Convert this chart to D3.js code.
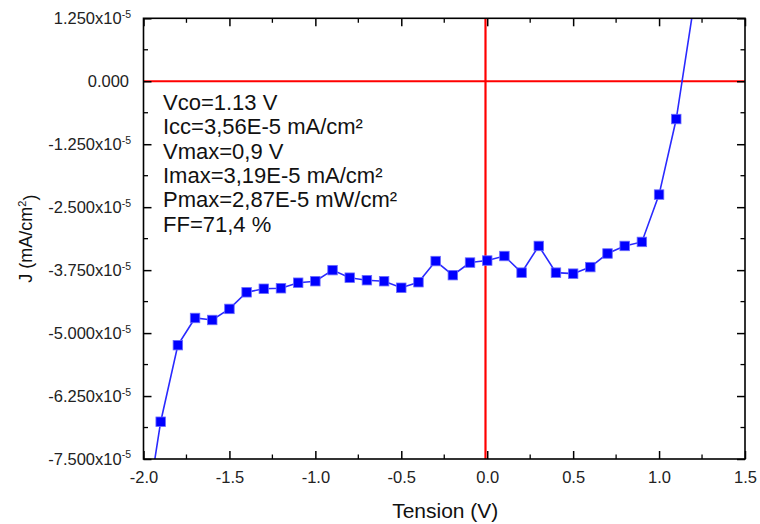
<!DOCTYPE html>
<html>
<head>
<meta charset="utf-8">
<script src="https://cdn.jsdelivr.net/npm/d3@7"></script>
<style>
  html, body { margin: 0; padding: 0; background: #fff; }
  svg { display: block; font-family: "Liberation Sans", Arial, sans-serif; }
</style>
</head>
<body>
<svg id="chart" width="760" height="524"></svg>
<script>
// ---- data ----
const voltage = [-2.0, -1.9, -1.8, -1.7, -1.6, -1.5, -1.4, -1.3, -1.2, -1.1, -1.0,
  -0.9, -0.8, -0.7, -0.6, -0.5, -0.4, -0.3, -0.2, -0.1, 0.0,
  0.1, 0.2, 0.3, 0.4, 0.5, 0.6, 0.7, 0.8, 0.9, 1.0, 1.1, 1.2];
const currentDensity = [-8.95e-5, -6.76e-5, -5.24e-5, -4.70e-5, -4.74e-5, -4.52e-5, -4.19e-5, -4.12e-5, -4.11e-5, -4.00e-5, -3.97e-5,
  -3.75e-5, -3.90e-5, -3.95e-5, -3.97e-5, -4.10e-5, -3.99e-5, -3.57e-5, -3.85e-5, -3.60e-5, -3.56e-5,
  -3.47e-5, -3.80e-5, -3.27e-5, -3.80e-5, -3.82e-5, -3.69e-5, -3.42e-5, -3.27e-5, -3.19e-5, -2.25e-5, -0.75e-5, 1.47e-5];
const xTicks = [-2.0, -1.5, -1.0, -0.5, 0.0, 0.5, 1.0, 1.5];
const xMinorTicks = [-1.75, -1.25, -0.75, -0.25, 0.25, 0.75, 1.25];
const yTicks = [1.25e-5, 0, -1.25e-5, -2.5e-5, -3.75e-5, -5e-5, -6.25e-5, -7.5e-5];
const yTickMantissa = ["1.250", "0.000", "-1.250", "-2.500", "-3.750", "-5.000", "-6.250", "-7.500"];
const yMinorTicks = [0.625e-5, -0.625e-5, -1.875e-5, -3.125e-5, -4.375e-5, -5.625e-5, -6.875e-5];
const refV = -0.01;
const refJ = 0;
const annotations = ["Vco=1.13 V", "Icc=3,56E-5 mA/cm²", "Vmax=0,9 V",
  "Imax=3,19E-5 mA/cm²", "Pmax=2,87E-5 mW/cm²", "FF=71,4 %"];
const xTitle = "Tension (V)";
const yTitleMain = "J (mA/cm";
const yTitleSup = "2";
const yTitleEnd = ")";

(function () {
// ---- layout ----
const svg = d3.select("#chart");
const L = 143.5, R = 745, T = 18.3, B = 459;
const x = d3.scaleLinear().domain([-2.0, 1.5]).range([L, R]);
const y = d3.scaleLinear().domain([-7.5e-5, 1.25e-5]).range([B, T]);

svg.append("defs").append("clipPath").attr("id", "clip")
  .append("rect").attr("x", L).attr("y", T).attr("width", R - L).attr("height", B - T);

// reference lines
svg.append("line").attr("x1", L).attr("x2", R).attr("y1", y(refJ)).attr("y2", y(refJ))
  .attr("stroke", "#ff0000").attr("stroke-width", 2.2);
svg.append("line").attr("x1", x(refV)).attr("x2", x(refV)).attr("y1", T).attr("y2", B)
  .attr("stroke", "#ff0000").attr("stroke-width", 2.2);

// data
const pts = voltage.map((v, i) => [v, currentDensity[i]]);
const g = svg.append("g").attr("clip-path", "url(#clip)");
g.append("path").datum(pts)
  .attr("d", d3.line().x(d => x(d[0])).y(d => y(d[1])))
  .attr("fill", "none").attr("stroke", "#2a2aff").attr("stroke-width", 1.6);
const ms = 9.5;
g.selectAll("rect.pt").data(pts).enter().append("rect").attr("class", "pt")
  .attr("x", d => x(d[0]) - ms / 2).attr("y", d => y(d[1]) - ms / 2)
  .attr("width", ms).attr("height", ms)
  .attr("fill", "#0000ff").attr("stroke", "#6a6aff").attr("stroke-width", 0.8);

// axes (ticks inward)
function axis(gen, tr, major) {
  const a = svg.append("g").attr("transform", tr);
  a.call(gen.tickValues(major).tickSizeInner(-8).tickSizeOuter(0));
  a.select(".domain").remove();
  a.selectAll("line").attr("stroke", "#000").attr("stroke-width", 1.5);
  return a;
}
const axBottom = axis(d3.axisBottom(x).tickFormat(d3.format(".1f")), `translate(0,${B})`, xTicks);
axBottom.selectAll("text").attr("font-size", 16.5).attr("fill", "#222")
  .attr("y", 477 - B).attr("dy", "0.35em").text(d => d3.format(".1f")(d).replace("\u2212", "-"));
axis(d3.axisTop(x).tickFormat(""), `translate(0,${T})`, xTicks);
axis(d3.axisLeft(y).tickFormat(""), `translate(${L},0)`, yTicks);
axis(d3.axisRight(y).tickFormat(""), `translate(${R},0)`, yTicks);

// minor ticks
const minorG = svg.append("g").attr("stroke", "#000").attr("stroke-width", 1.3);
xMinorTicks.forEach(v => {
  minorG.append("line").attr("x1", x(v)).attr("x2", x(v)).attr("y1", B).attr("y2", B - 4.5);
  minorG.append("line").attr("x1", x(v)).attr("x2", x(v)).attr("y1", T).attr("y2", T + 4.5);
});
yMinorTicks.forEach(v => {
  minorG.append("line").attr("x1", L).attr("x2", L + 4.5).attr("y1", y(v)).attr("y2", y(v));
  minorG.append("line").attr("x1", R).attr("x2", R - 4.5).attr("y1", y(v)).attr("y2", y(v));
});

// y tick labels with x10^-5
const yl = svg.append("g");
yTicks.forEach((v, i) => {
  const t = yl.append("text").attr("x", 131).attr("y", y(v)).attr("dy", "0.35em")
    .attr("text-anchor", "end").attr("font-size", 16.5).attr("fill", "#222");
  if (v === 0) {
    t.attr("x", 129).text(yTickMantissa[i]);
  } else {
    t.append("tspan").text(yTickMantissa[i] + "x10");
    t.append("tspan").attr("dy", "-0.6em").attr("font-size", 10.5).text("-5");
  }
});

// frame
svg.append("rect").attr("x", L).attr("y", T).attr("width", R - L).attr("height", B - T)
  .attr("fill", "none").attr("stroke", "#000").attr("stroke-width", 1.6);

// annotations
annotations.forEach((s, i) => {
  svg.append("text").attr("x", 163).attr("y", 102 + i * 24.4).attr("dy", "0.35em")
    .attr("font-size", 22).attr("fill", "#111").text(s);
});

// axis titles
svg.append("text").attr("x", (L + R) / 2 + 1).attr("y", 511).attr("dy", "0.35em")
  .attr("text-anchor", "middle").attr("font-size", 21).attr("fill", "#111").text(xTitle);
const yt = svg.append("text").attr("transform", `translate(26,${(T + B) / 2}) rotate(-90)`)
  .attr("dy", "0.35em").attr("text-anchor", "middle").attr("font-size", 18)
  .attr("fill", "#111");
yt.append("tspan").text(yTitleMain);
yt.append("tspan").attr("dy", "-0.55em").attr("font-size", 11).text(yTitleSup);
yt.append("tspan").attr("dy", "0.55em").text(yTitleEnd);
})();
</script>
</body>
</html>
